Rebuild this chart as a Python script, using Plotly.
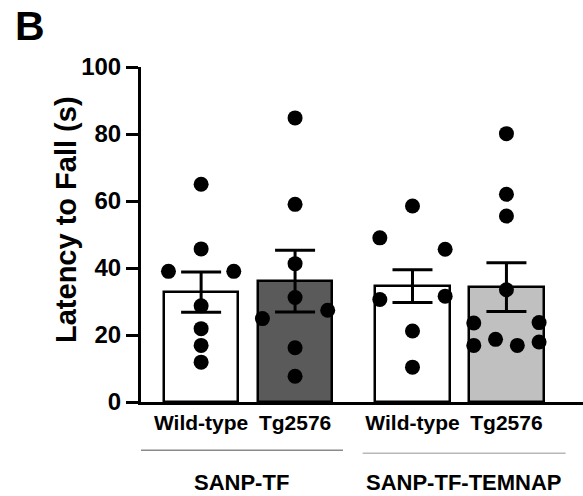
import plotly.graph_objects as go

# ---------------- data ----------------
groups = ["SANP-TF", "SANP-TF-TEMNAP"]
genotypes = ["Wild-type", "Tg2576"]
y_ticks = [0, 20, 40, 60, 80, 100]

bar_means = [32.8, 36.1, 34.6, 34.3]
bar_sems = [6.0, 9.2, 4.9, 7.3]

wt_sanp = [65.0, 45.7, 39.0, 39.0, 28.7, 21.9, 16.9, 11.9]
tg_sanp = [84.8, 59.0, 41.3, 24.9, 31.2, 27.4, 16.2, 7.7]
wt_temnap = [58.5, 49.0, 45.6, 30.6, 31.6, 21.2, 10.4]
tg_temnap = [80.1, 62.0, 55.5, 33.5, 23.6, 23.7, 16.9, 18.7, 16.9, 17.9]

# ---------------- layout constants ----------------
W, H = 583, 496
M_L, M_R, M_T, M_B = 141, 0, 67, 94
PLOT_H = H - M_T - M_B
Y_RANGE = [0, 100]
PX_PER_UNIT = PLOT_H / (Y_RANGE[1] - Y_RANGE[0])
MARKER = 15
BAR_W = 0.79
GROUP_STEP = len(genotypes) + 0.25
X_RANGE = [-0.64, 4.065]
FONT = "Arial, Liberation Sans, sans-serif"
fills = ["#ffffff", "#5a5a5a", "#ffffff", "#c0c0c0"]

points = [wt_sanp, tg_sanp, wt_temnap, tg_temnap]
positions = [g * GROUP_STEP + i for g in range(len(groups)) for i in range(len(genotypes))]
tick_text = [gt for _ in groups for gt in genotypes]


def swarm_offsets(values, thresh, half_span):
    """Spread points that would overlap vertically across the bar width."""
    n = len(values)
    order = sorted(range(n), key=lambda i: values[i])
    clusters, cur = [], [order[0]]
    for a, b in zip(order, order[1:]):
        if values[b] - values[a] < thresh:
            cur.append(b)
        else:
            clusters.append(cur)
            cur = [b]
    clusters.append(cur)
    offs = [0.0] * n
    for c in clusters:
        k = len(c)
        if k > 1:
            for j, i in enumerate(sorted(c)):
                offs[i] = -half_span + 2 * half_span * j / (k - 1)
    return offs


fig = go.Figure()

fig.add_trace(go.Bar(
    x=positions, y=bar_means, width=BAR_W,
    marker=dict(color=fills, line=dict(color="black", width=2.5)),
    error_y=dict(type="data", array=bar_sems, visible=True, color="black",
                 thickness=3, width=20),
    showlegend=False, hoverinfo="skip",
))

thresh = MARKER / PX_PER_UNIT
for pos, vals in zip(positions, points):
    offs = swarm_offsets(vals, thresh, 0.44 * BAR_W)
    fig.add_trace(go.Scatter(
        x=[pos + o for o in offs], y=vals, mode="markers",
        marker=dict(color="black", size=MARKER, line=dict(width=0)),
        showlegend=False, cliponaxis=False,
    ))

annotations = [
    dict(text="Latency to Fall (s)", textangle=-90, xref="paper", yref="paper",
         x=(66 - M_L) / (W - M_L - M_R), y=(H - M_B - 220) / PLOT_H,
         xanchor="center", yanchor="middle", showarrow=False,
         font=dict(family=FONT, size=29, color="black", weight="bold")),
]
shapes = []
line_cols = ["#8a8a8a", "#b8b8b8"]
line_y = [-0.144, -0.153]
line_shift = [-0.07, 0.05]
for g, name in enumerate(groups):
    gpos = positions[g * len(genotypes):(g + 1) * len(genotypes)]
    center = sum(gpos) / len(gpos)
    annotations.append(dict(
        text=name, xref="x", yref="paper", x=center + line_shift[g], y=-0.24,
        xanchor="center", yanchor="middle", showarrow=False,
        font=dict(family=FONT, size=22, color="black", weight="bold")))
    shapes.append(dict(type="line", xref="x", yref="paper",
                       x0=center + line_shift[g] - 1.08, x1=center + line_shift[g] + 1.08,
                       y0=line_y[g], y1=line_y[g],
                       line=dict(color=line_cols[g], width=1.5)))

fig.update_layout(
    width=W, height=H,
    margin=dict(l=M_L, r=M_R, t=M_T, b=M_B, pad=0),
    plot_bgcolor="white", paper_bgcolor="white",
    font=dict(family=FONT, color="black"),
    title=dict(text="B", x=15 / W, xanchor="left", y=1 - 11 / H, yanchor="top",
               font=dict(family=FONT, size=41, color="black", weight="bold")),
    annotations=annotations, shapes=shapes,
    xaxis=dict(range=X_RANGE, showgrid=False, zeroline=False, showline=True,
               linecolor="black", linewidth=3, tickvals=positions, ticktext=tick_text,
               ticks="", automargin=False,
               tickfont=dict(family=FONT, size=21, color="black", weight="bold")),
    yaxis=dict(range=Y_RANGE, tickvals=y_ticks, showgrid=False, zeroline=False,
               showline=True, linecolor="black", linewidth=3, ticks="outside",
               ticklen=12, tickwidth=2.5, tickcolor="black", automargin=False,
               tickfont=dict(family=FONT, size=24, color="black", weight="bold")),
    bargap=0,
)

fig.write_html("out.html", config={"displayModeBar": False},
               post_script="document.body.style.margin='0';document.body.style.padding='0';")
